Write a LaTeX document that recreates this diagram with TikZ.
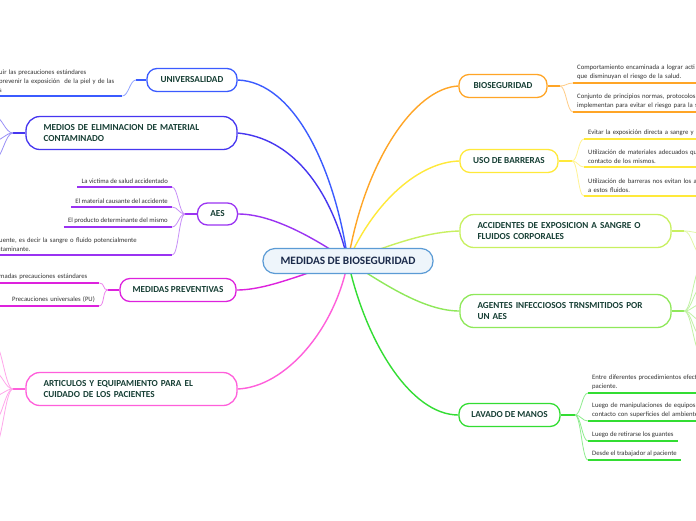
\documentclass[tikz,border=0pt]{standalone}
\usepackage{fontspec}
\setmainfont{Carlito}
\definecolor{uniC}{HTML}{3B5BFF}
\definecolor{medC}{HTML}{4636F0}
\definecolor{aesC}{HTML}{9A33F2}
\definecolor{prevC}{HTML}{DD22DD}
\definecolor{artC}{HTML}{FF5FDB}
\definecolor{bioC}{HTML}{FFA526}
\definecolor{usoC}{HTML}{FFE93A}
\definecolor{accC}{HTML}{C8F060}
\definecolor{ageC}{HTML}{8FE85A}
\definecolor{lavC}{HTML}{33DD33}
\definecolor{cenC}{HTML}{5B9BD5}
\definecolor{cenF}{HTML}{EEF5FB}
\definecolor{cenT}{HTML}{1B2A4A}
\definecolor{titlec}{HTML}{173F35}
\definecolor{leafc}{HTML}{333333}
\pgfdeclarelayer{bg}
\pgfsetlayers{bg,main}
\begin{document}
\begin{tikzpicture}[x=1pt,y=-1pt,
 title/.style={draw=#1, fill=white, line width=1.3pt, rounded corners=10pt,
   font=\fontsize{9.2}{11}\bfseries\selectfont, text=titlec},
 one/.style={inner sep=0pt},
 two/.style={text width=176pt, align=left, inner xsep=17.5pt, minimum height=33pt, rounded corners=14pt},
 leaf/.style={inner xsep=4pt, inner ysep=3.2pt, font=\fontsize{6.7}{8.8}\selectfont, text=leafc},
 lr/.style={leaf, anchor=south west, align=left},
 ll/.style={leaf, anchor=south east, align=right},
 trunk/.style={draw=#1, line width=1.4pt},
 stub/.style={draw=#1, line width=1.3pt},
 lc/.style={draw=#1!55, line width=0.8pt},
 ul/.style={draw=#1, line width=1.8pt},
]
\useasboundingbox (0,0) rectangle (696,520);

% central
\node[draw=cenC, fill=cenF, line width=1.2pt, rounded corners=12pt, minimum width=170pt, minimum height=25pt, inner sep=0pt,
  font=\fontsize{11.3}{13}\bfseries\selectfont, text=cenT] (c) at (348,261) {MEDIDAS DE BIOSEGURIDAD};

% main topics
\node[title=uniC, one, minimum width=90pt, minimum height=23pt] (uni) at (192,80) {UNIVERSALIDAD};
\node[title=medC, two] (med) at (131.5,133) {MEDIOS DE ELIMINACION DE MATERIAL\\CONTAMINADO};
\node[title=aesC, one, minimum width=40pt, minimum height=22pt] (aes) at (217.5,214) {AES};
\node[title=prevC, one, minimum width=116pt, minimum height=23pt] (prev) at (178,290) {MEDIDAS PREVENTIVAS};
\node[title=artC, two] (art) at (131.5,389) {ARTICULOS Y EQUIPAMIENTO PARA EL\\CUIDADO DE LOS PACIENTES};
\node[title=bioC, one, minimum width=88pt, minimum height=23pt] (bio) at (503,86) {BIOSEGURIDAD};
\node[title=usoC, one, minimum width=98pt, minimum height=23pt] (uso) at (509,161) {USO DE BARRERAS};
\node[title=accC, two] (acc) at (565.5,231) {ACCIDENTES DE EXPOSICION A SANGRE O\\FLUIDOS CORPORALES};
\node[title=ageC, two] (age) at (565.5,311) {AGENTES INFECCIOSOS TRNSMITIDOS POR\\UN AES};
\node[title=lavC, one, minimum width=101pt, minimum height=23pt] (lav) at (509.5,415) {LAVADO DE MANOS};

% junctions
\coordinate (jb) at (560,86);
\coordinate (ju) at (572,161);
\coordinate (jl) at (575,415);
\coordinate (jacc) at (684,231);
\coordinate (jage) at (684,311);
\coordinate (juni) at (136,80);
\coordinate (jm) at (13,133);
\coordinate (ja) at (185,214);
\coordinate (jp) at (108,290);
\coordinate (jart) at (13,389);

% off-page ends
\coordinate (mo1) at (-6,116);
\coordinate (mo2) at (-6,141);
\coordinate (mo3) at (-6,160);
\coordinate (ao1) at (-6,343);
\coordinate (ao2) at (-6,372);
\coordinate (ao3) at (-6,396);
\coordinate (ao4) at (-6,421);
\coordinate (ao5) at (-6,448);
\coordinate (co1) at (702,233);
\coordinate (co2) at (702,255);
\coordinate (go1) at (702,266);
\coordinate (go2) at (702,287);
\coordinate (go3) at (702,304);
\coordinate (go4) at (702,321);
\coordinate (go5) at (702,337);
\coordinate (go6) at (702,355);

% leaves right
\node[lr, text width=140pt] (b1) at (573,83) {Comportamiento encaminada a lograr acti\\que disminuyan el riesgo de la salud.};
\node[lr, text width=140pt] (b2) at (573,112) {Conjunto de principios normas, protocolos\\implementan para evitar el riesgo para la s};
\node[lr, text width=130pt] (u1) at (584,139) {Evitar la exposición directa a sangre y o};
\node[lr, text width=130pt] (u2) at (584,167) {Utilización de materiales adecuados qu\\contacto de los mismos.};
\node[lr, text width=130pt] (u3) at (584,196) {Utilización de barreras nos evitan los a\\a estos fluidos.};
\node[lr, text width=130pt] (l1) at (588,393) {Entre diferentes procedimientos efect\\paciente.};
\node[lr, text width=130pt] (l2) at (588,421) {Luego de manipulaciones de equipos\\contacto con superficies del ambiente};
\node[lr] (l3) at (588,441) {Luego de retirarse los guantes};
\node[lr] (l4) at (588,460) {Desde el trabajador al paciente};

% leaves left
\node[lr, text width=119pt] (un1) at (-5,96) {uir las precauciones estándares\\prevenir la exposición\ \ de la piel y de las\\s};
\node[ll] (a1) at (172,187) {La victima de salud accidentado};
\node[ll] (a2) at (172,207) {El material causante del accidente};
\node[ll] (a3) at (172,227) {El producto determinante del mismo};
\node[lr, text width=171pt] (a4) at (-7,255) {fuente, es decir la sangre o fluido potencialmente\\ntaminante.};
\node[lr, text width=96pt] (m1) at (-5,283) {madas precauciones estándares};
\node[ll, text width=92pt] (m2) at (99,306) {Precauciones universales (PU)};

\begin{pgfonlayer}{bg}
\fill[white] (0,0) rectangle (696,520);
% trunks
\draw[trunk=uniC] (c.center) .. controls (335,170) and (295,82) .. (uni.east);
\draw[trunk=medC] (c.center) .. controls (330,185) and (290,138) .. (med.east);
\draw[trunk=aesC] (c.center) .. controls (310,235) and (270,214) .. (aes.east);
\draw[trunk=prevC] (c.center) .. controls (310,270) and (270,290) .. (prev.east);
\draw[trunk=artC] (c.center) .. controls (335,330) and (285,387) .. (art.east);
\draw[trunk=bioC] (c.center) .. controls (365,160) and (415,88) .. (bio.west);
\draw[trunk=usoC] (c.center) .. controls (375,200) and (420,162) .. (uso.west);
\draw[trunk=accC] (c.center) .. controls (390,245) and (425,232) .. (acc.west);
\draw[trunk=ageC] (c.center) .. controls (385,285) and (425,311) .. (age.west);
\draw[trunk=lavC] (c.center) .. controls (365,340) and (410,415) .. (lav.west);
\end{pgfonlayer}

% stubs
\draw[stub=bioC] (bio.east) -- (jb);
\draw[stub=usoC] (uso.east) -- (ju);
\draw[stub=lavC] (lav.east) -- (jl);
\draw[stub=accC] (acc.east) -- (jacc);
\draw[stub=ageC] (age.east) -- (jage);
\draw[stub=uniC] (uni.west) -- (juni);
\draw[stub=medC] (med.west) -- (jm);
\draw[stub=aesC] (aes.west) -- (ja);
\draw[stub=prevC] (prev.west) -- (jp);
\draw[stub=artC] (art.west) -- (jart);

% leaf connectors right
\foreach \n in {b1,b2} \draw[lc=bioC] (jb) .. controls +(6,0) and +(-6,0) .. (\n.south west);
\foreach \n in {u1,u2,u3} \draw[lc=usoC] (ju) .. controls +(6,0) and +(-6,0) .. (\n.south west);
\foreach \n in {l1,l2,l3,l4} \draw[lc=lavC] (jl) .. controls +(6,0) and +(-6,0) .. (\n.south west);
\foreach \n in {co1,co2} \draw[lc=accC] (jacc) .. controls +(8,0) and +(-8,0) .. (\n);
\foreach \n in {go1,go2,go3,go4,go5,go6} \draw[lc=ageC] (jage) .. controls +(8,0) and +(-8,0) .. (\n);
% leaf connectors left
\draw[lc=uniC] (juni) .. controls +(-6,0) and +(6,0) .. (un1.south east);
\foreach \n in {a1,a2,a3,a4} \draw[lc=aesC] (ja) .. controls +(-6,0) and +(6,0) .. (\n.south east);
\foreach \n in {m1,m2} \draw[lc=prevC] (jp) .. controls +(-6,0) and +(6,0) .. (\n.south east);
\foreach \n in {mo1,mo2,mo3} \draw[lc=medC] (jm) .. controls +(-8,0) and +(8,0) .. (\n);
\foreach \n in {ao1,ao2,ao3,ao4,ao5} \draw[lc=artC] (jart) .. controls +(-8,0) and +(8,0) .. (\n);

% underlines
\foreach \n in {b1,b2} \draw[ul=bioC] (\n.south west) -- (\n.south east);
\foreach \n in {u1,u2,u3} \draw[ul=usoC] (\n.south west) -- (\n.south east);
\foreach \n in {l1,l2,l3,l4} \draw[ul=lavC] (\n.south west) -- (\n.south east);
\draw[ul=uniC] (un1.south west) -- (un1.south east);
\foreach \n in {a1,a2,a3,a4} \draw[ul=aesC] (\n.south west) -- (\n.south east);
\foreach \n in {m1,m2} \draw[ul=prevC] (\n.south west) -- (\n.south east);
\end{tikzpicture}
\end{document}
